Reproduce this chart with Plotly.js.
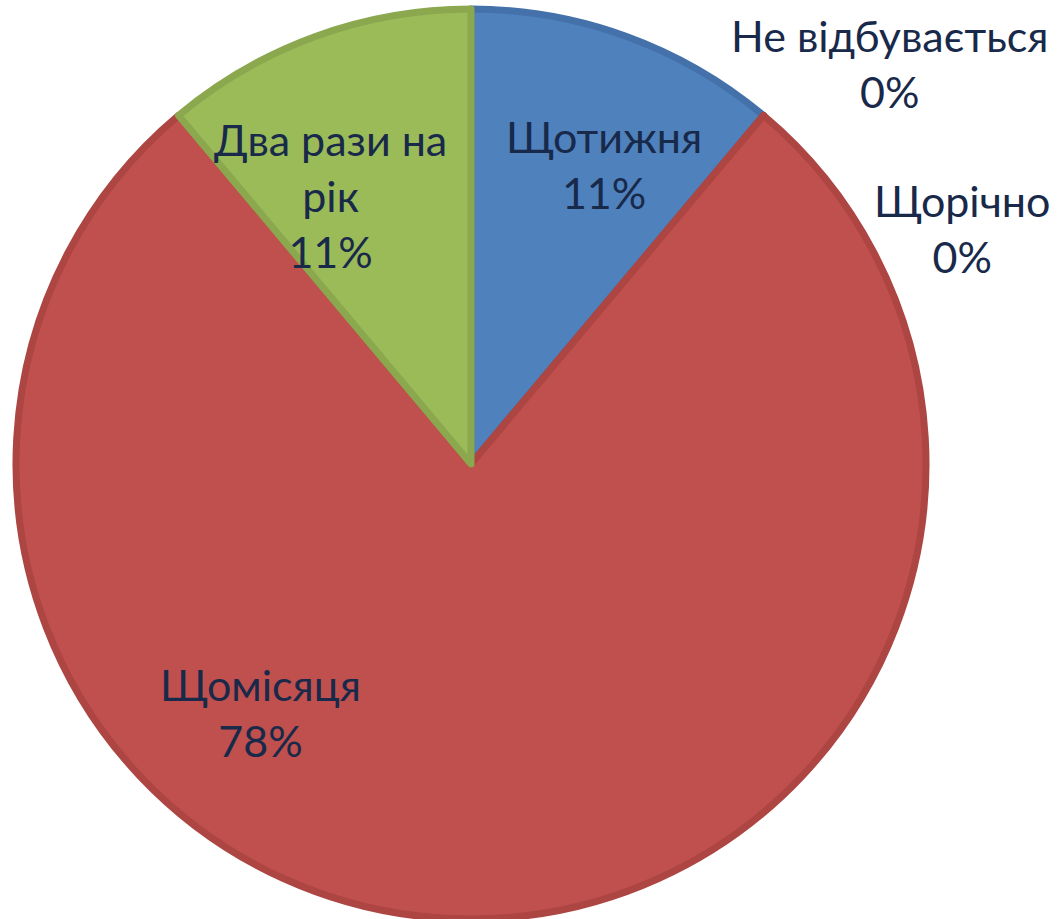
<!DOCTYPE html>
<html>
<head>
<meta charset="utf-8">
<script src="https://cdn.plot.ly/plotly-3.0.1.min.js"></script>
<style>html,body{margin:0;padding:0;background:#fff;}#chart{width:1061px;height:919px;}</style>
</head>
<body>
<div id="chart"></div>
<script>
// Data
const labels = ["Щотижня", "Не відбувається", "Щорічно", "Щомісяця", "Два рази на рік"];
const values = [1, 0, 0, 7, 1];

// Styles
const fillColors = ["#4F81BD", "#4F81BD", "#C0504D", "#C0504D", "#9BBB59"];
const lineColors = ["#4471A9", "#4471A9", "#AD4542", "#AD4542", "#8BA84F"];
const textColor = "#18294A";
const fontFamily = "Lato, 'Open Sans', sans-serif";

// Label block centres (pixel positions in the 1061x919 frame)
const labelPos = [
  {x: 604, y: 164},
  {x: 890, y: 64},
  {x: 962, y: 228},
  {x: 260, y: 712},
  {x: 330, y: 196}
];

const W = 1061, H = 919;
const total = values.reduce((a, b) => a + b, 0);

const annotations = labels.map((lab, i) => {
  const pct = Math.round(values[i] / total * 100) + "%";
  const txt = lab.replace("на рік", "на<br>рік") + "<br>" + pct;
  return {
    xref: "paper", yref: "paper",
    x: labelPos[i].x / W, y: 1 - labelPos[i].y / H,
    xanchor: "center", yanchor: "middle",
    text: txt, showarrow: false, align: "center",
    font: {family: fontFamily, size: 43, color: textColor}
  };
});

const cx = 471, cy = 464, r = 455;
const trace = {
  type: "pie",
  labels: labels,
  values: values,
  sort: false,
  direction: "clockwise",
  rotation: 0,
  textinfo: "none",
  hoverinfo: "skip",
  showlegend: false,
  marker: {colors: fillColors, line: {color: lineColors, width: 7}},
  domain: {x: [(cx - r) / W, (cx + r) / W], y: [(H - cy - r) / H, (H - cy + r) / H]}
};

const layout = {
  width: W, height: H,
  margin: {l: 0, r: 0, t: 0, b: 0},
  paper_bgcolor: "#ffffff",
  plot_bgcolor: "#ffffff",
  showlegend: false,
  annotations: annotations
};

Plotly.newPlot("chart", [trace], layout, {displayModeBar: false, staticPlot: true});
</script>
</body>
</html>
